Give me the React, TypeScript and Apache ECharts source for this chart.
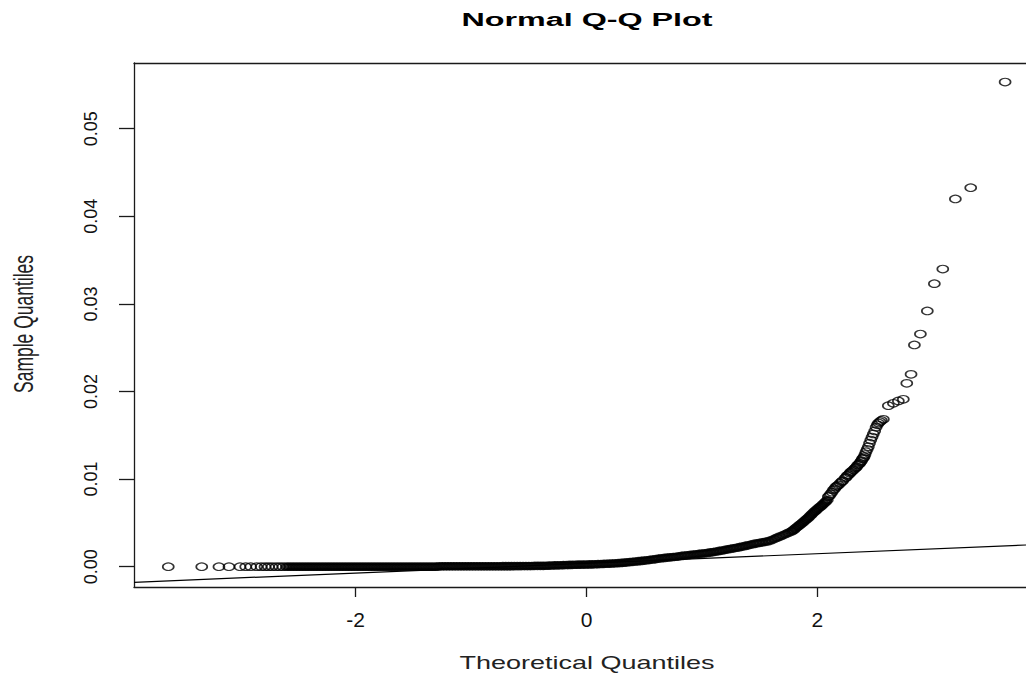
import React, { useEffect, useRef } from "react";
import * as echarts from "echarts";

// Axis ranges and tick values
const xRange = [-3.921, 3.808];
const yRange = [-0.002317, 0.0575];
const xTicks = [-2, 0, 2];
const yTicks = [0, 0.01, 0.02, 0.03, 0.04, 0.05];

// Sparse lower tail (theoretical, sample)
const lowerTail: number[][] = [
  [-3.624, 0], [-3.334, 0], [-3.185, 0], [-3.098, 0], [-3.003, 0], [-2.953, 0],
  [-2.91, 0], [-2.858, 0], [-2.82, 0], [-2.786, 0], [-2.756, 0], [-2.725, 0],
  [-2.691, 0], [-2.66, 0], [-2.63, 0],
];

// Dense body of the sample (overlapping points)
const body: number[][] = [
  [-2.6, 0], [-2.575, 0], [-2.55, 0], [-2.525, 0], [-2.5, 0], [-2.475, 0], [-2.45, 0],
  [-2.425, 0], [-2.4, 0], [-2.375, 0], [-2.35, 0], [-2.325, 0], [-2.3, 0], [-2.275, 0],
  [-2.25, 0], [-2.225, 0], [-2.2, 0], [-2.175, 0], [-2.15, 0], [-2.125, 0], [-2.1, 0],
  [-2.075, 0], [-2.05, 0], [-2.025, 0], [-2.0, 0], [-1.975, 0], [-1.95, 0], [-1.925, 0],
  [-1.9, 0], [-1.875, 0], [-1.85, 0], [-1.825, 0], [-1.8, 0], [-1.775, 0], [-1.75, 0],
  [-1.725, 0], [-1.7, 0], [-1.675, 0], [-1.65, 0], [-1.625, 0], [-1.6, 0], [-1.575, 0],
  [-1.55, 0], [-1.525, 0], [-1.5, 0], [-1.475, 0], [-1.45, 0], [-1.425, 0], [-1.4, 0],
  [-1.375, 0], [-1.35, 0], [-1.325, 0], [-1.3, 0],
  [-1.275, 0.00005], [-1.25, 0.00005], [-1.225, 0.00005], [-1.2, 0.00005], [-1.175, 0.00005],
  [-1.15, 0.00005], [-1.125, 0.00005], [-1.1, 0.00005], [-1.075, 0.00005], [-1.05, 0.00005],
  [-1.025, 0.00005], [-1.0, 0.00005], [-0.975, 0.00005], [-0.95, 0.00005], [-0.925, 0.00005],
  [-0.9, 0.00005], [-0.875, 0.00005], [-0.85, 0.00005], [-0.825, 0.00005], [-0.8, 0.00005],
  [-0.775, 0.00005], [-0.75, 0.00005], [-0.725, 0.00006], [-0.7, 0.00006], [-0.675, 0.00006],
  [-0.65, 0.00006], [-0.625, 0.00007], [-0.6, 0.00007], [-0.575, 0.00007], [-0.55, 0.00008],
  [-0.525, 0.00008], [-0.5, 0.00008], [-0.475, 0.00008], [-0.45, 0.00009], [-0.425, 0.00009],
  [-0.4, 0.0001], [-0.375, 0.0001], [-0.35, 0.00011], [-0.325, 0.00012], [-0.3, 0.00014],
  [-0.275, 0.00015], [-0.25, 0.00016], [-0.225, 0.00017], [-0.2, 0.00018], [-0.175, 0.00019],
  [-0.15, 0.0002], [-0.125, 0.00021], [-0.1, 0.00022], [-0.075, 0.00023], [-0.05, 0.00024],
  [-0.025, 0.00024], [0, 0.00025], [0.025, 0.00026], [0.05, 0.00027], [0.075, 0.00028],
  [0.1, 0.0003], [0.125, 0.00031], [0.15, 0.00032], [0.175, 0.00034], [0.2, 0.00036],
  [0.225, 0.00037], [0.25, 0.00039], [0.275, 0.00041], [0.3, 0.00043], [0.325, 0.00046],
  [0.35, 0.00049], [0.375, 0.00052], [0.4, 0.00056], [0.425, 0.00059], [0.45, 0.00063],
  [0.475, 0.00066], [0.5, 0.0007], [0.525, 0.00074], [0.55, 0.00078], [0.575, 0.00082],
  [0.6, 0.00087], [0.625, 0.00092], [0.65, 0.00097], [0.675, 0.001], [0.7, 0.00104],
  [0.725, 0.00107], [0.75, 0.00111], [0.775, 0.00114], [0.8, 0.00118], [0.825, 0.00123],
  [0.85, 0.00128], [0.875, 0.00131], [0.9, 0.00135], [0.925, 0.00138], [0.95, 0.00142],
  [0.975, 0.00146], [1.0, 0.0015], [1.025, 0.00153], [1.05, 0.00157], [1.075, 0.00163],
  [1.1, 0.00168], [1.125, 0.00174], [1.15, 0.0018], [1.175, 0.00185], [1.2, 0.00192],
  [1.225, 0.00198], [1.25, 0.00204], [1.275, 0.0021], [1.3, 0.00216], [1.325, 0.00223],
  [1.35, 0.0023], [1.375, 0.00237], [1.4, 0.00244], [1.425, 0.00252], [1.45, 0.0026],
  [1.475, 0.00266], [1.5, 0.00272], [1.525, 0.00278], [1.55, 0.00284], [1.575, 0.00291],
  [1.6, 0.00302], [1.625, 0.00315], [1.65, 0.0033], [1.675, 0.00344], [1.7, 0.00358],
  [1.725, 0.00372], [1.75, 0.00387], [1.775, 0.00402], [1.7875, 0.00412], [1.8, 0.00425],
  [1.8125, 0.00438], [1.825, 0.00452], [1.8375, 0.00465], [1.85, 0.00478], [1.8625, 0.00492],
  [1.875, 0.00506], [1.8875, 0.0052], [1.9, 0.00534], [1.9125, 0.00548], [1.925, 0.00563],
  [1.9375, 0.00578], [1.95, 0.00595], [1.9625, 0.00612], [1.975, 0.00627], [1.9875, 0.00641],
  [2.0, 0.00655], [2.0125, 0.0067], [2.025, 0.00684], [2.0375, 0.00697], [2.05, 0.00712],
  [2.0625, 0.00727], [2.075, 0.00744], [2.0875, 0.0076],
];

// Sparse upper tail
const upperTail: number[][] = [
  [2.095, 0.00799], [2.105, 0.0081], [2.115, 0.0083], [2.127, 0.0085], [2.139, 0.00876],
  [2.15, 0.0089], [2.16, 0.0091], [2.17, 0.0092], [2.182, 0.00933], [2.197, 0.00952],
  [2.21, 0.0097], [2.22, 0.0098], [2.24, 0.01009], [2.25, 0.0102], [2.26, 0.0104],
  [2.27, 0.0105], [2.283, 0.01066], [2.29, 0.0108], [2.3, 0.0109], [2.312, 0.01104],
  [2.325, 0.0112], [2.333, 0.0113], [2.341, 0.01142], [2.35, 0.0116], [2.36, 0.0117],
  [2.368, 0.0118], [2.376, 0.01199], [2.383, 0.0121], [2.39, 0.0123], [2.398, 0.0124],
  [2.405, 0.01256], [2.413, 0.0128], [2.422, 0.01313], [2.432, 0.0134], [2.442, 0.0137],
  [2.452, 0.0141], [2.463, 0.01446], [2.474, 0.0148], [2.485, 0.01515], [2.497, 0.0155],
  [2.509, 0.01591], [2.52, 0.0162], [2.53, 0.0164], [2.543, 0.01655], [2.555, 0.0167],
  [2.572, 0.01683], [2.615, 0.01838], [2.659, 0.01865], [2.702, 0.01892], [2.745, 0.01911],
  [2.775, 0.02093], [2.812, 0.02196], [2.841, 0.02531], [2.893, 0.02656], [2.953, 0.02919],
  [3.014, 0.03231], [3.087, 0.03398], [3.196, 0.04198], [3.329, 0.04326], [3.627, 0.05533],
];

// Reference (qqline) end points at the plot edges
const qqLine: number[][] = [
  [-3.921, -0.00178],
  [3.808, 0.00248],
];

const FONT = "'Liberation Sans', Arial, sans-serif";

export default function App() {
  const ref = useRef<HTMLDivElement>(null);
  useEffect(() => {
    if (!ref.current) return;
    const chart = echarts.init(ref.current, undefined, { renderer: "svg" });
    const axisColor = "#1a1a1a";
    chart.setOption({
      animation: false,
      backgroundColor: "#ffffff",
      grid: { left: 134, top: 63, right: 0, bottom: 88, containLabel: false },
      xAxis: [
        {
          type: "value",
          min: xRange[0],
          max: xRange[1],
          position: "bottom",
          axisLine: { show: true, onZero: false, lineStyle: { color: axisColor, width: 1.3 } },
          axisTick: { show: true, length: 10, customValues: xTicks, lineStyle: { color: axisColor, width: 1.3 } },
          axisLabel: {
            customValues: xTicks,
            margin: 22,
            fontSize: 21,
            fontFamily: FONT,
            color: "#111",
            formatter: (v: number) => String(v),
          },
          splitLine: { show: false },
        },
        {
          type: "value",
          min: xRange[0],
          max: xRange[1],
          position: "top",
          axisLine: { show: true, onZero: false, lineStyle: { color: axisColor, width: 1.3 } },
          axisTick: { show: false },
          axisLabel: { show: false },
          splitLine: { show: false },
        },
      ],
      yAxis: {
        type: "value",
        min: yRange[0],
        max: yRange[1],
        axisLine: { show: true, onZero: false, lineStyle: { color: axisColor, width: 1.3 } },
        axisTick: { show: true, length: 15, customValues: yTicks, lineStyle: { color: axisColor, width: 1.3 } },
        axisLabel: {
          customValues: yTicks,
          rotate: 90,
          margin: 34,
          fontSize: 18,
          fontFamily: FONT,
          color: "#111",
          formatter: (v: number) => v.toFixed(2),
        },
        splitLine: { show: false },
      },
      graphic: [
        {
          type: "text",
          x: 587,
          y: 20,
          scaleX: 1.7,
          style: {
            text: "Normal Q-Q Plot",
            fontSize: 19,
            fontWeight: "bold",
            fontFamily: FONT,
            fill: "#000",
            align: "center",
            verticalAlign: "middle",
          },
        },
        {
          type: "text",
          x: 587,
          y: 663,
          scaleX: 1.5,
          style: {
            text: "Theoretical Quantiles",
            fontSize: 18,
            fontFamily: FONT,
            fill: "#222",
            align: "center",
            verticalAlign: "middle",
          },
        },
        {
          type: "text",
          x: 23,
          y: 324,
          rotation: Math.PI / 2,
          scaleY: 1.6,
          style: {
            text: "Sample Quantiles",
            fontSize: 17.5,
            fontFamily: FONT,
            fill: "#222",
            align: "center",
            verticalAlign: "middle",
          },
        },
      ],
      series: [
        {
          type: "scatter",
          data: lowerTail,
          symbol: "circle",
          symbolSize: [11, 7.5],
          itemStyle: { color: "rgba(0,0,0,0)", borderColor: "#000", borderWidth: 1.4 },
          silent: true,
        },
        {
          type: "scatter",
          data: body,
          symbol: "circle",
          symbolSize: [9.5, 6.5],
          itemStyle: { color: "rgba(0,0,0,0)", borderColor: "#000", borderWidth: 2.5 },
          silent: true,
        },
        {
          type: "scatter",
          data: upperTail,
          symbol: "circle",
          symbolSize: [11, 7.5],
          itemStyle: { color: "rgba(0,0,0,0)", borderColor: "#000", borderWidth: 1.4 },
          silent: true,
        },
        {
          type: "line",
          data: qqLine,
          symbol: "none",
          lineStyle: { color: "#000", width: 1.2 },
          silent: true,
        },
      ],
    });
    return () => chart.dispose();
  }, []);
  return (
    <div
      ref={ref}
      style={{ position: "fixed", left: 0, top: 0, width: 1026, height: 675, background: "#fff" }}
    />
  );
}
